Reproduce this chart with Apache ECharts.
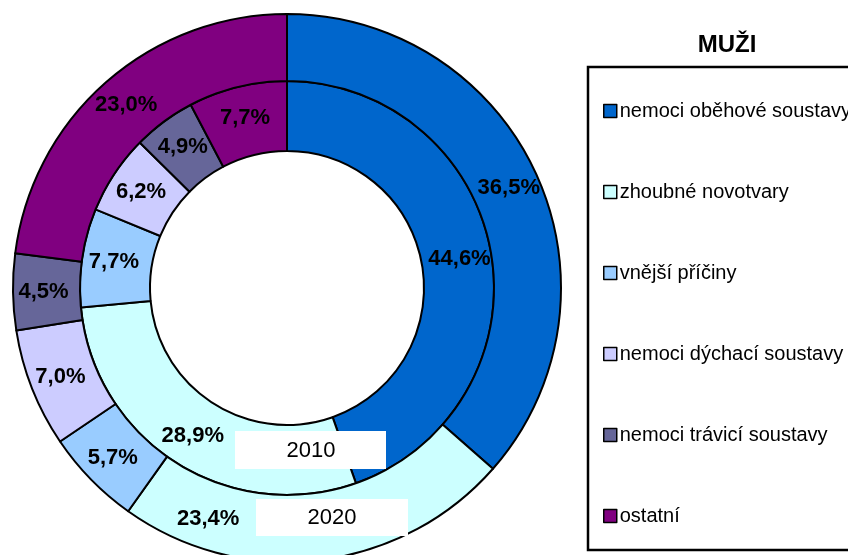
<!DOCTYPE html>
<html>
<head>
<meta charset="utf-8">
<script src="https://cdn.jsdelivr.net/npm/echarts@6/dist/echarts.min.js"></script>
<style>
  html, body { margin: 0; padding: 0; background: #fff; }
  #chart { width: 848px; height: 555px; }
</style>
</head>
<body>
<div id="chart"></div>
<script>
const categories = [
  'nemoci oběhové soustavy',
  'zhoubné novotvary',
  'vnější příčiny',
  'nemoci dýchací soustavy',
  'nemoci trávicí soustavy',
  'ostatní'
];
const values2010 = [44.6, 28.9, 7.7, 6.2, 4.9, 7.7];
const values2020 = [36.5, 23.4, 5.7, 7.0, 4.5, 23.0];
const palette = ['#0066CC', '#CCFFFF', '#99CCFF', '#CCCCFF', '#666699', '#800080'];

const sans = 'Liberation Sans';
const fmt = p => p.value.toFixed(1).replace('.', ',') + '%';

const chart = echarts.init(document.getElementById('chart'));

const ringStyle = {
  borderColor: '#000',
  borderWidth: 2
};
const ringLabel = {
  show: true,
  position: 'inside',
  formatter: fmt,
  color: '#000',
  fontFamily: sans,
  fontWeight: 'bold',
  fontSize: 22
};

// white box with the year, drawn over the rings
const yearRect = (x, y, w, h) => ({
  type: 'rect',
  z: 100,
  shape: { x: x, y: y, width: w, height: h },
  style: { fill: '#fff' }
});
const yearText = (x, y, txt) => ({
  type: 'text',
  z: 101,
  x: x,
  y: y,
  style: {
    text: txt,
    fill: '#000',
    fontFamily: sans,
    fontSize: 22,
    align: 'center',
    verticalAlign: 'middle'
  }
});

// outer ring: the "zhoubné novotvary" label sits left of the 2020 box
const outerData = categories.map((c, i) => {
  const d = { name: c, value: values2020[i] };
  if (i === 1) d.label = { offset: [-107, -11] };
  return d;
});

chart.setOption({
  animation: false,
  color: palette,
  title: {
    text: 'MUŽI',
    left: 722,
    top: 28,
    textAlign: 'center',
    textStyle: {
      fontFamily: sans,
      fontWeight: 'bold',
      fontSize: 24,
      color: '#000'
    }
  },
  legend: {
    orient: 'vertical',
    left: 598,
    top: 94,
    itemWidth: 13,
    itemHeight: 13,
    itemGap: 57,
    icon: 'rect',
    data: categories,
    itemStyle: { borderColor: '#000', borderWidth: 1.5 },
    textStyle: {
      fontFamily: sans,
      fontSize: 20,
      lineHeight: 24,
      color: '#000',
      padding: [0, 0, 0, -2]
    }
  },
  graphic: [
    {
      type: 'rect',
      z: 50,
      shape: { x: 588, y: 67, width: 300, height: 483 },
      style: { fill: 'none', stroke: '#000', lineWidth: 2.5 }
    },
    yearRect(235, 431, 151, 38),
    yearText(311, 451, '2010'),
    yearRect(256, 499, 152, 37),
    yearText(332, 518, '2020')
  ],
  series: [
    {
      name: '2010',
      type: 'pie',
      center: [287, 288],
      radius: [137, 207],
      startAngle: 90,
      clockwise: true,
      silent: true,
      itemStyle: ringStyle,
      label: ringLabel,
      labelLine: { show: false },
      data: categories.map((c, i) => ({ name: c, value: values2010[i] }))
    },
    {
      name: '2020',
      type: 'pie',
      center: [287, 288],
      radius: [207, 274],
      startAngle: 90,
      clockwise: true,
      silent: true,
      itemStyle: ringStyle,
      label: ringLabel,
      labelLine: { show: false },
      data: outerData
    }
  ]
});
</script>
</body>
</html>
